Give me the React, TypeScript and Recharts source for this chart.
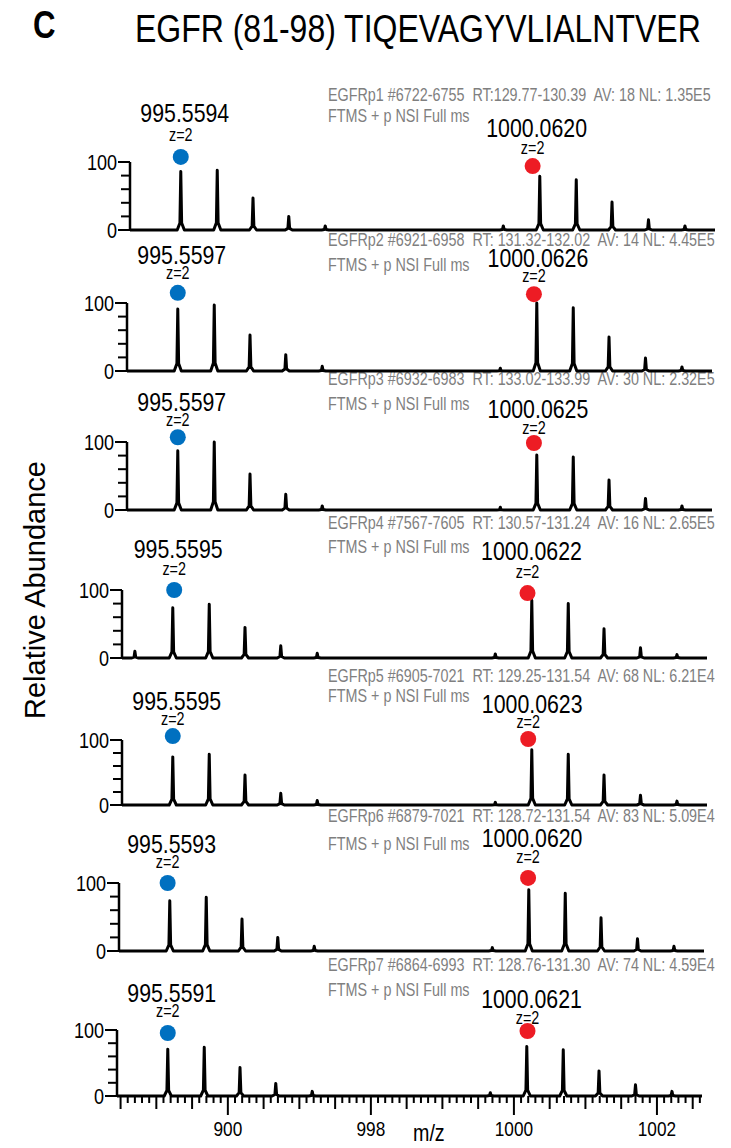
import { LineChart, Line, XAxis, YAxis, ReferenceDot } from "recharts";

const SANS = "'Liberation Sans', Arial, sans-serif";
const NARROW_SCALE = 0.82; // the figure uses a condensed Helvetica
const BLUE = "#0070c0";
const RED = "#ed1c24";
const GRAY = "#7f7f7f";

const X_MIN = 994.45;
const X_MAX = 1002.63;

// peak centroids as they sit on the drawn m/z axis
const peakMz = [994.63, 995.16, 995.67, 996.17, 996.67, 997.18, 999.67, 1000.18, 1000.69, 1001.19, 1001.7, 1002.21];

// relative abundance of each peak, one array per run
const p1Heights = [0, 86, 88, 47, 20, 6, 6, 79, 74, 41, 15, 6];
const p2Heights = [0, 91, 97, 53, 24, 7, 4, 100, 93, 50, 19, 6];
const p3Heights = [0, 87, 100, 53, 23, 6, 4, 81, 78, 44, 17, 6];
const p4Heights = [10, 74, 79, 45, 18, 7, 6, 85, 80, 43, 15, 5];
const p5Heights = [0, 74, 78, 46, 18, 7, 4, 85, 78, 46, 15, 6];
const p6Heights = [0, 74, 79, 47, 20, 7, 5, 90, 85, 49, 18, 7];
const p7Heights = [0, 71, 74, 43, 19, 7, 5, 75, 70, 38, 17, 7];
const runHeights = [p1Heights, p2Heights, p3Heights, p4Heights, p5Heights, p6Heights, p7Heights];

const scanHeaders = [
  "EGFRp1 #6722-6755  RT:129.77-130.39  AV: 18 NL: 1.35E5",
  "EGFRp2 #6921-6958  RT: 131.32-132.02  AV: 14 NL: 4.45E5",
  "EGFRp3 #6932-6983  RT: 133.02-133.99  AV: 30 NL: 2.32E5",
  "EGFRp4 #7567-7605  RT: 130.57-131.24  AV: 16 NL: 2.65E5",
  "EGFRp5 #6905-7021  RT: 129.25-131.54  AV: 68 NL: 6.21E4",
  "EGFRp6 #6879-7021  RT: 128.72-131.54  AV: 83 NL: 5.09E4",
  "EGFRp7 #6864-6993  RT: 128.76-131.30  AV: 74 NL: 4.59E4",
];
const scanFilter = "FTMS + p NSI Full ms";

const lightMass = ["995.5594", "995.5597", "995.5597", "995.5595", "995.5595", "995.5593", "995.5591"];
const heavyMass = ["1000.0620", "1000.0626", "1000.0625", "1000.0622", "1000.0623", "1000.0620", "1000.0621"];
const chargeLabel = "z=2";

// marker positions in data units (m/z, abundance)
const lightDotMz = [995.16, 995.16, 995.16, 995.18, 995.16, 995.13, 995.16];
const lightDotY = [107.5, 115, 107, 100, 106, 100, 95.5];
const heavyDotMz = [1000.08, 1000.14, 1000.14, 1000.12, 1000.13, 1000.17, 1000.19];
const heavyDotY = [94, 113, 98.5, 95.5, 101.5, 107.5, 98.5];

const yTicks = [0, 20, 40, 60, 80, 100];
const xTickValues = [996, 998, 1000, 1002];
const xTickLabels = ["900", "998", "1000", "1002"];

// page layout of each panel (pixels); lm/lz, hm/hz = label lift above the light/heavy marker
const layout = [
  { axisX: 130, y100: 162, y0: 230, headY: 96, ftmsY: 117, lm: 44, lz: 22, hm: 38, hz: 18 },
  { axisX: 127, y100: 303, y0: 371, headY: 241, ftmsY: 266, lm: 38, lz: 20, hm: 37, hz: 18 },
  { axisX: 127, y100: 442, y0: 510, headY: 380, ftmsY: 405, lm: 36, lz: 18, hm: 34, hz: 15 },
  { axisX: 122, y100: 590, y0: 658, headY: 524, ftmsY: 548, lm: 41, lz: 21, hm: 42, hz: 21 },
  { axisX: 122, y100: 740, y0: 805, headY: 677, ftmsY: 697, lm: 35, lz: 17, hm: 35, hz: 17 },
  { axisX: 119, y100: 883, y0: 951, headY: 817, ftmsY: 845, lm: 39, lz: 21, hm: 40, hz: 21 },
  { axisX: 117, y100: 1030, y0: 1096, headY: 966, ftmsY: 991, lm: 40, lz: 22, hm: 32, hz: 13 },
];

const PLOT_W = 585;
const Y_AXIS_W = 60;
const TOP = 75;

const minorTicks: number[] = [];
for (let i = 9945; i <= 10026; i++) minorTicks.push(i / 10);

function buildTrace(heights: number[]) {
  const pts = [{ mz: X_MIN, y: 0 }];
  peakMz.forEach((mz, i) => {
    const h = heights[i];
    if (!h) return;
    pts.push(
      { mz: mz - 0.05, y: 0 },
      { mz: mz - 0.012, y: h * 0.12 },
      { mz, y: h },
      { mz: mz + 0.012, y: h * 0.12 },
      { mz: mz + 0.05, y: 0 }
    );
  });
  pts.push({ mz: X_MAX, y: 0 });
  return pts;
}

// condensed svg text: scale horizontally around the anchor point
function NText({ x, y, size, anchor = "start", children }: any) {
  return (
    <g transform={`translate(${x},${y}) scale(${NARROW_SCALE},1)`}>
      <text x={0} y={0} dy="0.36em" textAnchor={anchor} fontFamily={SANS} fontSize={size} fill="#000">
        {children}
      </text>
    </g>
  );
}

function YTick(props: any) {
  const { x, y, payload } = props;
  const v = payload.value;
  const labeled = v === 0 || v === 100;
  const len = labeled ? 12 : 9;
  return (
    <g>
      <line x1={x - len} x2={x} y1={y} y2={y} stroke="#000" strokeWidth={2} />
      {labeled && (
        <NText x={x - len - 1} y={y} size={22} anchor="end">
          {v}
        </NText>
      )}
    </g>
  );
}

function XTick(props: any) {
  const { x, y, payload } = props;
  const tenth = Math.round(payload.value * 10);
  const major = tenth % 20 === 0;
  const mid = tenth % 5 === 0;
  const len = major ? 19 : mid ? 13 : 7;
  const idx = xTickValues.indexOf(tenth / 10);
  return (
    <g>
      <line x1={x} x2={x} y1={y} y2={y + len} stroke="#000" strokeWidth={2} />
      {idx >= 0 && (
        <NText x={x} y={y + 32} size={21} anchor="middle">
          {xTickLabels[idx]}
        </NText>
      )}
    </g>
  );
}

function marker(color: string, mass: string, massLift: number, zLift: number) {
  return (p: any) => (
    <g>
      <circle cx={p.cx} cy={p.cy} r={8} fill={color} />
      <NText x={p.cx + 4} y={p.cy - massLift} size={26} anchor="middle">
        {mass}
      </NText>
      <NText x={p.cx} y={p.cy - zLift} size={17.5} anchor="middle">
        {chargeLabel}
      </NText>
    </g>
  );
}

function Panel({ idx }: { idx: number }) {
  const l = layout[idx];
  const last = idx === layout.length - 1;
  const plotH = l.y0 - l.y100;
  const bottom = last ? 50 : 14;
  const height = TOP + plotH + bottom;
  return (
    <div style={{ position: "absolute", left: l.axisX - Y_AXIS_W, top: l.y100 - TOP }}>
      <LineChart
        width={Y_AXIS_W + PLOT_W + 10}
        height={height}
        data={buildTrace(runHeights[idx])}
        margin={{ top: TOP, right: 10, bottom: last ? 0 : 14, left: 0 }}
      >
        <XAxis
          type="number"
          dataKey="mz"
          domain={[X_MIN, X_MAX]}
          hide={!last}
          ticks={minorTicks}
          interval={0}
          height={50}
          axisLine={false}
          tickLine={false}
          tickSize={0}
          tickMargin={0}
          tick={(p: any) => <XTick {...p} />}
        />
        <YAxis
          domain={[0, 100]}
          ticks={yTicks}
          interval={0}
          width={Y_AXIS_W}
          axisLine={{ stroke: "#000", strokeWidth: 2.5 }}
          tickLine={false}
          tickSize={0}
          tickMargin={0}
          tick={(p: any) => <YTick {...p} />}
        />
        <Line
          type="linear"
          dataKey="y"
          stroke="#000"
          strokeWidth={3}
          strokeLinejoin="round"
          dot={false}
          isAnimationActive={false}
        />
        <ReferenceDot
          x={lightDotMz[idx]}
          y={lightDotY[idx]}
          r={8}
          ifOverflow="visible"
          shape={marker(BLUE, lightMass[idx], l.lm, l.lz)}
        />
        <ReferenceDot
          x={heavyDotMz[idx]}
          y={heavyDotY[idx]}
          r={8}
          ifOverflow="visible"
          shape={marker(RED, heavyMass[idx], l.hm, l.hz)}
        />
      </LineChart>
    </div>
  );
}

function PlainText({ x, cy, size, children, style }: any) {
  return (
    <div
      style={{
        position: "absolute",
        left: x,
        top: cy,
        transform: `translateY(-50%) scaleX(${NARROW_SCALE})`,
        transformOrigin: "left center",
        fontSize: size,
        lineHeight: 1,
        whiteSpace: "pre",
        fontFamily: SANS,
        ...style,
      }}
    >
      {children}
    </div>
  );
}

export default function App() {
  return (
    <div style={{ position: "absolute", left: 0, top: 0, width: 731, height: 1148, background: "#fff", overflow: "hidden" }}>
      <PlainText x={33} cy={25} size={38} style={{ fontWeight: 700 }}>
        C
      </PlainText>
      <PlainText x={135} cy={28} size={39}>
        EGFR (81-98) TIQEVAGYVLIALNTVER
      </PlainText>
      <div
        style={{
          position: "absolute",
          left: 35,
          top: 590,
          transform: "translate(-50%, -50%) rotate(-90deg)",
          fontFamily: SANS,
          fontSize: 29,
          lineHeight: 1,
          whiteSpace: "nowrap",
        }}
      >
        Relative Abundance
      </div>
      {layout.map((l, i) => (
        <div key={i}>
          <PlainText x={328} cy={l.headY} size={17.5} style={{ color: GRAY }}>
            {scanHeaders[i]}
          </PlainText>
          <PlainText x={328} cy={l.ftmsY} size={17.5} style={{ color: GRAY }}>
            {scanFilter}
          </PlainText>
        </div>
      ))}
      {layout.map((_, i) => (
        <Panel key={i} idx={i} />
      ))}
      <PlainText x={413} cy={1133} size={24}>
        m/z
      </PlainText>
    </div>
  );
}
